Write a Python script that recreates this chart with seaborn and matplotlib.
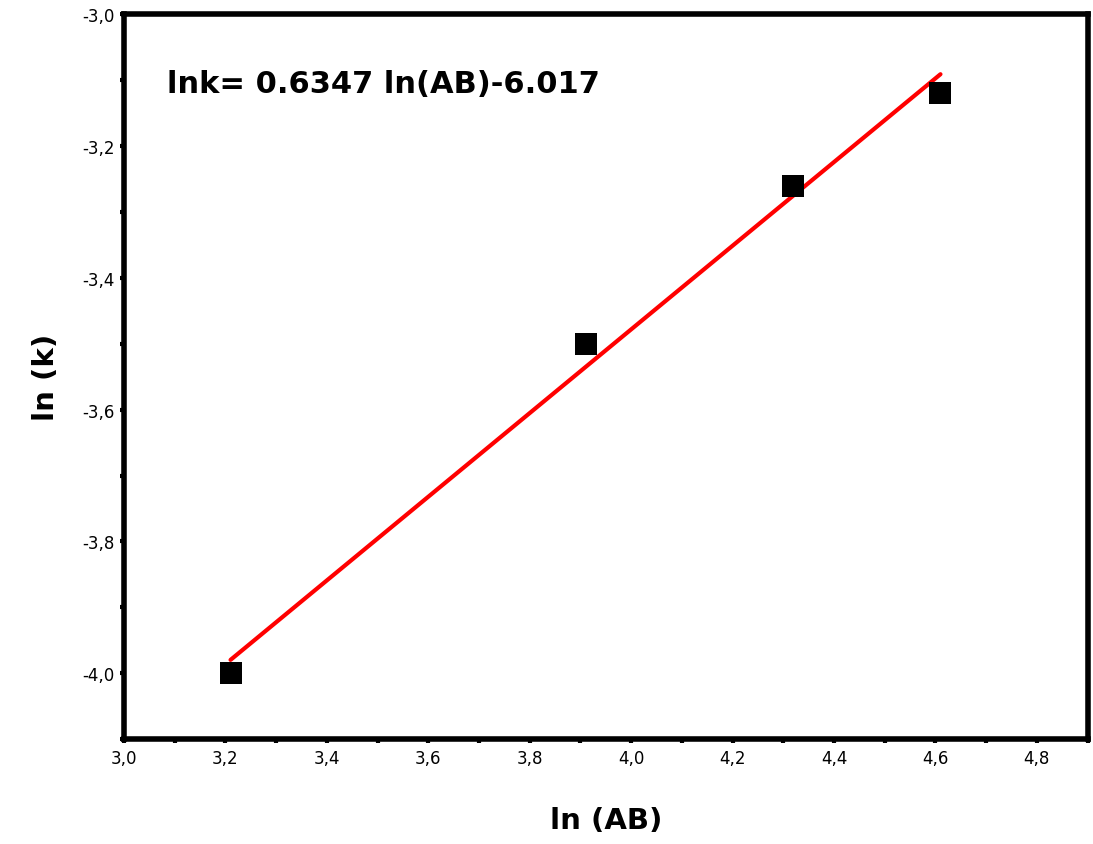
import numpy as np
import pandas as pd
import matplotlib
matplotlib.use("Agg")
import matplotlib.pyplot as plt
import seaborn as sns
from matplotlib.ticker import MultipleLocator, FuncFormatter

ln_ab = [3.21, 3.91, 4.32, 4.61]
ln_k = [-4.00, -3.50, -3.26, -3.12]
slope = 0.6347
intercept = -6.017
fit_x = [3.21, 4.61]
fit_y = [slope * v + intercept for v in fit_x]

sns.set_theme(style="white")
plt.rcParams['font.family'] = ['DejaVu Sans']
plt.rcParams['text.color'] = 'black'
plt.rcParams['axes.labelcolor'] = 'black'
plt.rcParams['xtick.color'] = 'black'
plt.rcParams['ytick.color'] = 'black'

fig = plt.figure(figsize=(10.93, 8.45), dpi=100)
ax = fig.add_axes([0.1135, 0.124, 0.8815, 0.858])

pts = pd.DataFrame({"x": ln_ab, "y": ln_k})
fit = pd.DataFrame({"x": fit_x, "y": fit_y})
sns.lineplot(data=fit, x="x", y="y", ax=ax, color="#ff0000", linewidth=3, zorder=2)
sns.scatterplot(data=pts, x="x", y="y", ax=ax, marker="s", s=230, color="black",
                edgecolor="black", linewidth=0, zorder=3)

ax.set_xlim(3.0, 4.9)
ax.set_ylim(-4.1, -3.0)
ax.xaxis.set_major_locator(MultipleLocator(0.2))
ax.xaxis.set_minor_locator(MultipleLocator(0.1))
ax.yaxis.set_major_locator(MultipleLocator(0.2))
ax.yaxis.set_minor_locator(MultipleLocator(0.1))
fmt = FuncFormatter(lambda v, p: f"{v:.1f}".replace(".", ","))
ax.xaxis.set_major_formatter(fmt)
ax.yaxis.set_major_formatter(fmt)
ax.tick_params(axis="both", which="both", direction="out", length=3, width=3,
               color="black", labelsize=12, labelcolor="black", pad=4,
               bottom=True, left=True)
for s in ax.spines.values():
    s.set_linewidth(4)
    s.set_color("black")

ax.set_xlabel("ln (AB)", fontsize=21, fontweight="bold", labelpad=28, color="black")
ax.set_ylabel("ln (k)", fontsize=21, fontweight="bold", labelpad=16, color="black")
ax.text(0.045, 0.905, "lnk= 0.6347 ln(AB)-6.017", transform=ax.transAxes,
        fontsize=22, fontweight="bold", ha="left", va="center", color="black")

fig.savefig("out.png", dpi=100)
